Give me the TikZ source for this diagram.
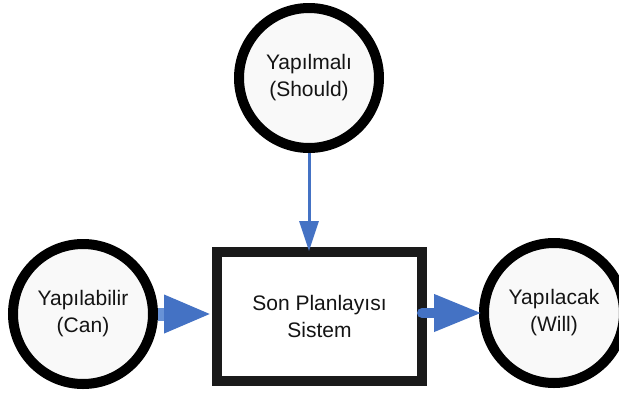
\documentclass[tikz,border=0pt]{standalone}
\usepackage{fontspec}
\setmainfont{Liberation Sans}
\usetikzlibrary{arrows.meta}
\definecolor{ringfill}{RGB}{249,249,249}
\definecolor{boxedge}{RGB}{26,26,26}
\definecolor{flowblue}{RGB}{68,114,196}
\definecolor{shaftblue}{RGB}{104,146,214}
\definecolor{labeltext}{RGB}{20,20,20}
\tikzset{
  ring/.style={circle, draw=black, line width=10pt, fill=ringfill,
    minimum size=140pt, inner sep=0pt, align=center,
    text=labeltext, font=\fontsize{21}{27}\selectfont},
  planbox/.style={rectangle, draw=boxedge, line width=10pt, fill=white,
    minimum width=205pt, minimum height=129pt, inner sep=0pt, align=center,
    text=labeltext, font=\fontsize{21}{27}\selectfont},
  bigflow/.style={line width=#1, -{Triangle[length=48pt,width=35pt,color=flowblue]}},
  thinflow/.style={draw=flowblue, line width=3pt, -{Triangle[length=30pt,width=19pt]}}
}
\begin{document}
\begin{tikzpicture}[x=1pt,y=-1pt]
  \useasboundingbox (0,0) rectangle (619,394);
  \begin{scope}
    \clip (0,0) rectangle (619,394);
    \node[ring] (should) at (309,78) {Yapılmalı\\(Should)};
    \node[ring] (can) at (83,314) {Yapılabilir\\(Can)};
    \node[ring] (will) at (554,313) {Yapılacak\\(Will)};
    \node[planbox] (plan) at (319.5,316.5) {Son Planlayısı\\Sistem};

    % can -> plan: pale shaft, solid head
    \draw[bigflow=13pt, draw=shaftblue] (can.east |- 0,314) -- (plan.west |- 0,314);
    % plan -> will: round-capped start over the border
    \draw[bigflow=10pt, draw=flowblue, line cap=round]
      ([xshift=-5pt]plan.east |- 0,313) -- ([xshift=3pt]will.west);
    % should -> plan, straight down into the top border
    \draw[thinflow] (should.south) -- ([yshift=-4pt]should.south |- plan.north);
  \end{scope}
\end{tikzpicture}
\end{document}
